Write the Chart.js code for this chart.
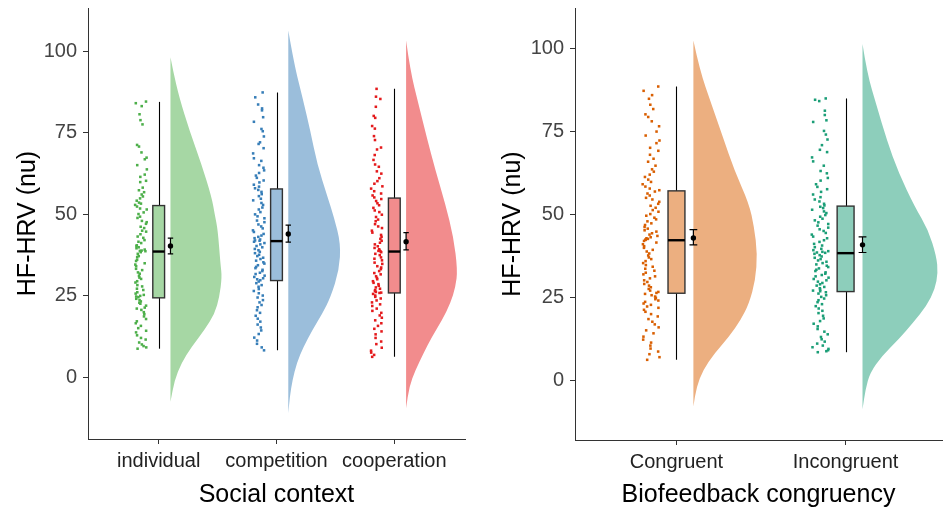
<!DOCTYPE html>
<html>
<head>
<meta charset="utf-8">
<script src="https://cdn.jsdelivr.net/npm/chart.js@4.4.1/dist/chart.umd.min.js"></script>
<style>
  body { margin: 0; background: #fff; width: 943px; height: 514px; position: relative; overflow: hidden; }
  canvas { position: absolute; top: 0; }
  #social-chart { left: 0; }
  #congruency-chart { left: 487px; }
</style>
</head>
<body>
<canvas id="social-chart" width="470" height="514"></canvas>
<canvas id="congruency-chart" width="459" height="514"></canvas>
<script>
'use strict';

// Categories and tick labels
var socialLabels = ['individual', 'competition', 'cooperation'];
var congruencyLabels = ['Congruent', 'Incongruent'];
var yTicks = [0, 25, 50, 75, 100];

// Raw HF-HRV values (nu), one array per group
var individualHrv = [84.6, 84.1, 83.2, 80.7, 78.9, 77.6, 71.3, 70.8, 69.0, 67.4, 66.9, 65.1, 63.8, 62.2, 61.5, 60.3, 59.9, 58.2, 57.4, 56.8, 56.1, 55.5, 54.9, 54.2, 53.6, 53.3, 52.9,
  52.4, 51.8, 51.5, 50.6, 50.1, 49.3, 48.9, 48.0, 47.6, 47.1, 46.2, 45.8, 45.0, 44.7, 43.9, 43.2, 42.8, 42.1, 41.6, 41.2, 40.5, 40.3, 39.9, 39.6, 39.2, 38.9, 38.8, 38.7,
  38.4, 37.9, 37.2, 36.9, 36.1, 35.7, 35.0, 34.6, 34.1, 33.3, 32.9, 32.2, 31.8, 31.1, 30.6, 30.2, 29.5, 29.1, 28.3, 27.9, 27.2, 26.8, 26.1, 25.7, 25.3, 25.0, 24.8, 24.6,
  24.1, 23.7, 23.3, 22.9, 22.6, 22.0, 21.4, 21.1, 20.7, 20.0, 19.4, 18.7, 17.9, 17.2, 16.6, 15.8, 15.1, 14.3, 13.8, 12.9, 12.1, 11.6, 10.7, 10.1, 9.6, 9.2, 8.8];
var competitionHrv = [87.4, 85.9, 83.7, 82.5, 81.9, 79.8, 78.4, 76.2, 75.5, 73.9, 72.1, 71.6, 70.3, 68.7, 67.2, 66.4, 65.1, 64.3, 63.5, 62.7, 61.9, 61.2, 60.4, 59.8, 59.1, 58.5, 58.0,
  57.5, 56.9, 56.2, 55.6, 54.8, 54.3, 53.5, 52.9, 52.1, 51.5, 50.7, 50.0, 49.4, 48.8, 48.1, 47.6, 46.9, 46.3, 45.7, 45.1, 44.6, 44.0, 43.5, 43.1, 42.7, 42.3, 42.0, 41.9,
  41.6, 41.2, 40.8, 40.3, 39.9, 39.4, 39.0, 38.5, 38.1, 37.6, 37.2, 36.7, 36.3, 35.8, 35.3, 34.9, 34.4, 33.9, 33.5, 33.0, 32.6, 32.1, 31.7, 31.2, 30.8, 30.4, 30.1, 29.8,
  29.4, 28.9, 28.3, 27.8, 27.1, 26.5, 25.8, 25.1, 24.5, 23.7, 23.0, 22.2, 21.5, 20.6, 19.8, 18.9, 18.0, 17.1, 16.2, 15.3, 14.4, 13.3, 12.2, 11.3, 10.3, 9.2, 8.3];
var cooperationHrv = [88.5, 86.1, 85.4, 83.0, 80.2, 79.6, 77.1, 76.3, 74.0, 72.8, 70.5, 69.9, 68.2, 66.7, 65.3, 64.6, 63.2, 62.5, 61.1, 60.2, 59.4, 58.6, 57.9, 57.1, 56.4, 55.8, 55.2,
  54.7, 54.1, 53.4, 52.8, 52.0, 51.2, 50.7, 49.9, 49.2, 48.4, 47.9, 47.0, 46.3, 45.8, 45.0, 44.4, 43.7, 43.1, 42.5, 41.9, 41.3, 40.8, 40.2, 39.7, 39.3, 39.0, 38.8, 38.7,
  38.4, 37.9, 37.5, 36.8, 36.4, 35.9, 35.2, 34.8, 34.1, 33.7, 33.2, 32.6, 32.0, 31.6, 31.0, 30.5, 30.1, 29.5, 29.0, 28.6, 28.1, 27.6, 27.2, 26.8, 26.5, 26.2, 26.0, 25.9,
  25.6, 25.1, 24.7, 24.2, 23.6, 23.0, 22.4, 21.9, 21.1, 20.4, 19.8, 19.0, 18.3, 17.5, 16.6, 15.8, 14.9, 14.1, 13.2, 12.1, 11.0, 10.2, 9.1, 8.2, 7.6, 6.9, 6.3];
var congruentHrv = [88.6, 87.3, 86.0, 84.9, 83.1, 81.8, 80.2, 79.4, 78.1, 76.6, 75.0, 73.8, 72.3, 71.5, 70.1, 69.2, 68.0, 66.8, 65.9, 64.7, 63.6, 62.9, 62.0, 61.3, 60.5, 59.8, 59.1, 58.4, 57.8, 57.3,
  56.9, 56.3, 55.7, 55.0, 54.5, 53.8, 53.2, 52.6, 52.0, 51.3, 50.8, 50.1, 49.6, 49.0, 48.5, 47.9, 47.3, 46.8, 46.2, 45.7, 45.2, 44.8, 44.3, 43.9, 43.5, 43.1, 42.8, 42.6, 42.4, 42.3,
  42.0, 41.5, 41.0, 40.4, 39.9, 39.3, 38.8, 38.2, 37.6, 37.0, 36.5, 35.9, 35.3, 34.7, 34.2, 33.6, 33.0, 32.4, 31.9, 31.3, 30.7, 30.1, 29.6, 29.0, 28.5, 28.0, 27.5, 27.0, 26.6, 26.3,
  26.0, 25.6, 25.2, 24.8, 24.4, 24.0, 23.6, 23.1, 22.7, 22.2, 21.8, 21.2, 20.6, 19.9, 19.2, 18.4, 17.6, 16.8, 15.9, 15.0, 14.1, 13.1, 12.2, 11.3, 10.4, 9.5, 8.6, 7.8, 6.9, 6.1];
var incongruentHrv = [85.0, 84.6, 84.2, 81.3, 80.0, 78.4, 77.9, 75.2, 74.1, 72.6, 70.9, 69.5, 68.8, 67.2, 66.0, 64.7, 63.1, 62.4, 61.0, 60.2, 59.1, 58.3, 57.6, 56.8, 56.0, 55.2, 54.5, 53.9, 53.2, 52.7,
  52.3, 51.9, 51.4, 50.9, 50.4, 49.8, 49.3, 48.7, 48.2, 47.6, 47.1, 46.6, 46.0, 45.5, 45.0, 44.4, 43.9, 43.3, 42.8, 42.2, 41.7, 41.1, 40.6, 40.1, 39.6, 39.2, 38.9, 38.7, 38.5, 38.4,
  38.1, 37.7, 37.3, 36.9, 36.5, 36.1, 35.7, 35.3, 34.9, 34.5, 34.1, 33.7, 33.3, 32.9, 32.5, 32.1, 31.7, 31.3, 30.9, 30.5, 30.1, 29.7, 29.3, 28.9, 28.5, 28.1, 27.7, 27.3, 27.0, 26.8,
  26.5, 26.1, 25.6, 25.1, 24.6, 24.1, 23.5, 22.9, 22.3, 21.6, 20.9, 20.2, 19.4, 18.6, 17.8, 17.0, 16.2, 15.4, 14.6, 13.8, 13.0, 12.3, 11.6, 11.0, 10.4, 9.9, 9.4, 9.0, 8.7, 8.4];

// Box plot summaries: whisker ends, quartiles, median
var socialWhiskerLow = [8.8, 8.3, 6.3];
var socialQ1 = [24.4, 29.7, 25.9];
var socialMedian = [38.6, 41.8, 38.6];
var socialQ3 = [52.7, 57.8, 55.0];
var socialWhiskerHigh = [84.5, 87.4, 88.5];
var congruencyWhiskerLow = [6.1, 8.4];
var congruencyQ1 = [26.2, 26.7];
var congruencyMedian = [42.2, 38.3];
var congruencyQ3 = [57.1, 52.5];
var congruencyWhiskerHigh = [88.6, 85.0];

// Means with standard error
var socialMean = [40.3, 44.0, 41.6];
var socialSeLow = [37.9, 41.5, 39.1];
var socialSeHigh = [42.7, 46.7, 44.4];
var congruencyMean = [42.9, 40.8];
var congruencySeLow = [40.8, 38.5];
var congruencySeHigh = [45.4, 43.2];

// Half-violin density profiles (value level, relative density)
var individualDensityY = [98.2, 94.1, 85.9, 75.7, 65.5, 55.3, 50.0, 45.1, 34.9, 30.8, 24.7, 19.6, 14.5, 9.4, 4.3, -0.8, -7.5];
var individualDensity = [0, 0.05, 0.17, 0.37, 0.60, 0.80, 0.86, 0.92, 0.97, 1.0, 0.95, 0.86, 0.66, 0.41, 0.21, 0.08, 0];
var competitionDensityY = [106.4, 96.2, 85.9, 75.7, 65.5, 55.3, 49.2, 41.0, 32.9, 24.7, 19.6, 14.5, 9.4, 4.3, -0.8, -5.9, -11.0];
var competitionDensity = [0, 0.11, 0.27, 0.42, 0.55, 0.75, 0.87, 1.0, 0.97, 0.81, 0.65, 0.46, 0.29, 0.16, 0.08, 0.03, 0];
var cooperationDensityY = [103.3, 94.1, 83.9, 73.7, 63.5, 53.3, 43.1, 32.9, 27.7, 22.7, 17.6, 12.4, 7.4, 2.2, -2.9, -9.5];
var cooperationDensity = [0, 0.08, 0.24, 0.40, 0.57, 0.76, 0.92, 1.0, 0.96, 0.86, 0.70, 0.50, 0.34, 0.18, 0.06, 0];
var congruentDensityY = [102.5, 93.5, 83.4, 73.4, 63.3, 53.3, 46.2, 38.2, 30.1, 23.1, 18.1, 13.1, 8.1, 3.0, -2.0, -8.0];
var congruentDensity = [0, 0.10, 0.28, 0.46, 0.64, 0.87, 0.95, 1.0, 0.97, 0.87, 0.74, 0.56, 0.33, 0.15, 0.05, 0];
var incongruentDensityY = [101.4, 92.6, 82.6, 72.5, 62.5, 52.4, 45.4, 37.4, 32.4, 27.4, 22.4, 17.3, 12.3, 7.3, 2.2, -2.8, -8.8];
var incongruentDensity = [0, 0.06, 0.19, 0.32, 0.48, 0.69, 0.87, 0.98, 1.0, 0.96, 0.85, 0.67, 0.48, 0.26, 0.10, 0.04, 0];

// Look and layout
var FONT = "'Liberation Sans', Arial, sans-serif";
var violinOffset = 0.1;
var boxHalf = 0.05;
var capHalf = 0.023;

// deterministic scatter of the dots across the strip, in x units
function jitter(i) {
  var h = Math.sin((i + 1) * 12.9898) * 43758.5453;
  return -0.2 + 0.1 * (h - Math.floor(h));
}

function pointsFor(values, cat, seed) {
  return values.map(function(v, i) {
    return { x: cat + jitter(i + seed), y: v };
  });
}

// draws half violins, whiskers, boxes and error bars on the chart scales
function raincloudPlugin(groups) {
  return {
    id: 'raincloud',
    beforeDatasetsDraw: function(chart) {
      var ctx = chart.ctx;
      var xs = chart.scales.x;
      var ys = chart.scales.y;
      var area = chart.chartArea;
      ctx.save();
      ctx.beginPath();
      ctx.rect(area.left, area.top, area.right - area.left, area.bottom - area.top);
      ctx.clip();

      groups.forEach(function(g, i) {
        var cat = i + 1;
        // half violin
        var base = xs.getPixelForValue(cat + violinOffset);
        var pts = g.densityY.map(function(v, k) {
          return [xs.getPixelForValue(cat + violinOffset + g.density[k] * g.peak), ys.getPixelForValue(v)];
        });
        ctx.beginPath();
        ctx.moveTo(pts[0][0], pts[0][1]);
        for (var k = 1; k < pts.length - 1; k++) {
          var mx = (pts[k][0] + pts[k + 1][0]) / 2;
          var my = (pts[k][1] + pts[k + 1][1]) / 2;
          ctx.quadraticCurveTo(pts[k][0], pts[k][1], mx, my);
        }
        ctx.lineTo(pts[pts.length - 1][0], pts[pts.length - 1][1]);
        ctx.lineTo(base, pts[pts.length - 1][1]);
        ctx.lineTo(base, pts[0][1]);
        ctx.closePath();
        ctx.fillStyle = g.fill;
        ctx.fill();

        // whiskers
        var cx = Math.round(xs.getPixelForValue(cat)) + 0.5;
        ctx.strokeStyle = '#000';
        ctx.lineWidth = 1.1;
        ctx.beginPath();
        ctx.moveTo(cx, ys.getPixelForValue(g.low));
        ctx.lineTo(cx, ys.getPixelForValue(g.high));
        ctx.stroke();

        // box
        var bl = xs.getPixelForValue(cat - boxHalf);
        var br = xs.getPixelForValue(cat + boxHalf);
        var bt = ys.getPixelForValue(g.q3);
        var bb = ys.getPixelForValue(g.q1);
        ctx.fillStyle = g.fill;
        ctx.fillRect(bl, bt, br - bl, bb - bt);
        ctx.strokeStyle = '#333';
        ctx.lineWidth = 1.4;
        ctx.strokeRect(bl, bt, br - bl, bb - bt);
        ctx.strokeStyle = '#000';
        ctx.lineWidth = 2.4;
        ctx.beginPath();
        ctx.moveTo(bl, ys.getPixelForValue(g.median));
        ctx.lineTo(br, ys.getPixelForValue(g.median));
        ctx.stroke();

        // standard error bar around the mean
        var ex = xs.getPixelForValue(cat + violinOffset);
        var el = xs.getPixelForValue(cat + violinOffset - capHalf);
        var er = xs.getPixelForValue(cat + violinOffset + capHalf);
        var et = ys.getPixelForValue(g.seHigh);
        var eb = ys.getPixelForValue(g.seLow);
        ctx.lineWidth = 1.2;
        ctx.beginPath();
        ctx.moveTo(ex, et); ctx.lineTo(ex, eb);
        ctx.moveTo(el, et); ctx.lineTo(er, et);
        ctx.moveTo(el, eb); ctx.lineTo(er, eb);
        ctx.stroke();
      });
      ctx.restore();
    }
  };
}

function noScalePadding(scale) {
  scale.paddingTop = 0;
  scale.paddingBottom = 0;
  scale.paddingLeft = 0;
  scale.paddingRight = 0;
}

function makeChart(id, labels, groups, yMin, yMax, xMin, xMax, xTitle, xHeight, rightPad, titlePad) {
  var datasets = [];
  groups.forEach(function(g, i) {
    datasets.push({
      data: pointsFor(g.values, i + 1, i * 137),
      pointStyle: 'rect',
      pointRadius: 1.8,
      borderWidth: 0,
      backgroundColor: g.color
    });
  });
  datasets.push({
    data: groups.map(function(g, i) { return { x: i + 1 + violinOffset, y: g.mean }; }),
    pointStyle: 'circle',
    pointRadius: 2.7,
    borderWidth: 0,
    backgroundColor: '#000'
  });

  var tickFont = { family: FONT, size: 20 };
  var titleFont = { family: FONT, size: 25, lineHeight: 1.2 };

  return new Chart(document.getElementById(id).getContext('2d'), {
    type: 'scatter',
    data: { datasets: datasets },
    options: {
      responsive: false,
      animation: false,
      layout: { padding: { top: 8, right: rightPad, left: 0, bottom: 0 } },
      plugins: { legend: { display: false }, tooltip: { enabled: false } },
      scales: {
        x: {
          type: 'linear',
          min: xMin,
          max: xMax,
          afterBuildTicks: function(scale) {
            scale.ticks = labels.map(function(l, i) { return { value: i + 1 }; });
          },
          afterFit: function(scale) { scale.height = xHeight; noScalePadding(scale); },
          ticks: {
            autoSkip: false,
            maxRotation: 0,
            padding: 5,
            color: '#222',
            font: tickFont,
            callback: function(v) { return labels[v - 1]; }
          },
          grid: { drawOnChartArea: false, tickLength: 5, color: '#333', lineWidth: 1 },
          border: { color: '#333', width: 1 },
          title: { display: true, text: xTitle, color: '#000', font: titleFont, padding: { bottom: 4 } }
        },
        y: {
          type: 'linear',
          min: yMin,
          max: yMax,
          afterBuildTicks: function(scale) {
            scale.ticks = yTicks.map(function(v) { return { value: v }; });
          },
          afterFit: function(scale) { scale.width = 88; noScalePadding(scale); },
          ticks: { padding: 6, color: '#444', font: tickFont },
          grid: { drawOnChartArea: false, tickLength: 5, color: '#333', lineWidth: 1 },
          border: { color: '#333', width: 1 },
          title: { display: true, text: 'HF-HRV (nu)', color: '#000', font: titleFont, padding: { top: titlePad } }
        }
      }
    },
    plugins: [raincloudPlugin(groups)]
  });
}

var socialGroups = [
  { values: individualHrv, densityY: individualDensityY, density: individualDensity, peak: 0.437, color: '#4DAF4A', fill: '#A6D7A4' },
  { values: competitionHrv, densityY: competitionDensityY, density: competitionDensity, peak: 0.445, color: '#377EB8', fill: '#9BBEDB' },
  { values: cooperationHrv, densityY: cooperationDensityY, density: cooperationDensity, peak: 0.437, color: '#E41A1C', fill: '#F28C8D' }
];
socialGroups.forEach(function(g, i) {
  g.low = socialWhiskerLow[i]; g.q1 = socialQ1[i]; g.median = socialMedian[i];
  g.q3 = socialQ3[i]; g.high = socialWhiskerHigh[i];
  g.mean = socialMean[i]; g.seLow = socialSeLow[i]; g.seHigh = socialSeHigh[i];
});

var congruencyGroups = [
  { values: congruentHrv, densityY: congruentDensityY, density: congruentDensity, peak: 0.378, color: '#D95F02', fill: '#ECAF80' },
  { values: incongruentHrv, densityY: incongruentDensityY, density: incongruentDensity, peak: 0.446, color: '#1B9E77', fill: '#8DCEBB' }
];
congruencyGroups.forEach(function(g, i) {
  g.low = congruencyWhiskerLow[i]; g.q1 = congruencyQ1[i]; g.median = congruencyMedian[i];
  g.q3 = congruencyQ3[i]; g.high = congruencyWhiskerHigh[i];
  g.mean = congruencyMean[i]; g.seLow = congruencySeLow[i]; g.seHigh = congruencySeHigh[i];
});

var socialChart = makeChart('social-chart', socialLabels, socialGroups, -18.9, 113.3, 0.4, 3.6, 'Social context', 75, 5, 13);
var congruencyChart = makeChart('congruency-chart', congruencyLabels, congruencyGroups, -18.1, 112.3, 0.4, 2.57, 'Biofeedback congruency', 74, 0, 11);
</script>
</body>
</html>
